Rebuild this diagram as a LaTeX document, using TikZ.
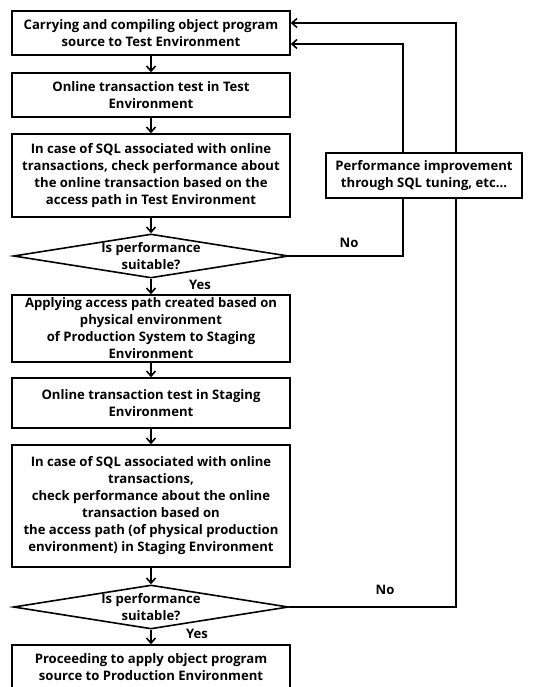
\documentclass[tikz,border=0pt]{standalone}
\usepackage{fontspec}
\setmainfont{Open Sans}
\usetikzlibrary{shapes.geometric,arrows.meta}
\begin{document}
\begin{tikzpicture}[x=1pt,y=-1pt,
  every node/.style={font=\bfseries\fontsize{13.1}{17}\selectfont},
  box/.style={draw,line width=1.6pt,minimum width=278pt,inner sep=0pt,align=center},
  dec/.style={draw,diamond,line width=1.6pt,aspect=6.25,minimum width=275pt,minimum height=44pt,inner sep=0pt},
  lbl/.style={align=center,inner sep=0pt},
  arr/.style={line width=1.6pt,-{Straight Barb[length=5pt,width=9pt]}},
  ln/.style={line width=1.6pt}]
\useasboundingbox (0,0) rectangle (539,687);
\node[box,minimum height=44pt] (b1) at (151,33) {Carrying and compiling object program\\source to Test Environment};
\node[box,minimum height=44pt] (b2) at (151,95) {Online transaction test in Test\\Environment};
\node[box,minimum height=83pt] (b3) at (151,175.5) {In case of SQL associated with online\\transactions, check performance about\\the online transaction based on the\\access path in Test Environment};
\node[dec] (d1) at (151,256) {};
\node[lbl] (d1t) at (d1) {Is performance\\suitable?};
\node[box,minimum height=67pt] (b4) at (151,328.5) {Applying access path created based on\\physical environment\\of Production System to Staging\\Environment};
\node[box,minimum height=50pt] (b5) at (151,403) {Online transaction test in Staging\\Environment};
\node[box,minimum height=122pt] (b6) at (151,506) {In case of SQL associated with online\\transactions,\\check performance about the online\\transaction based on\\the access path (of physical production\\environment) in Staging Environment};
\node[dec] (d2) at (151,607) {};
\node[lbl] (d2t) at (d2) {Is performance\\suitable?};
\node[box,minimum height=45pt] (b7) at (151,667.5) {Proceeding to apply object program\\source to Production Environment};
\node[box,minimum width=196pt,minimum height=45pt] (perf) at (424,175.5) {Performance improvement\\through SQL tuning, etc...};
\node (no1) at (349,243) {No};
\node (no2) at (385,590) {No};
\node (yes1) at (200,285) {Yes};
\node (yes2) at (197,634) {Yes};
\draw[arr] (b1) -- (b2);
\draw[arr] (b2) -- (b3);
\draw[arr] (b3) -- (d1);
\draw[arr] (d1) -- (b4);
\draw[arr] (b4) -- (b5);
\draw[arr] (b5) -- (b6);
\draw[arr] (b6) -- (d2);
\draw[arr] (d2) -- (b7);
\draw[ln] (d1.east) -| ([xshift=-21pt]perf.south);
\draw[arr] ([xshift=-21pt]perf.north) |- ([yshift=-11pt]b1.east);
\draw[ln] (d2.east) -| ([xshift=32pt]perf.south);
\draw[arr] ([xshift=32pt]perf.north) |- ([yshift=10pt]b1.east);
\end{tikzpicture}
\end{document}
